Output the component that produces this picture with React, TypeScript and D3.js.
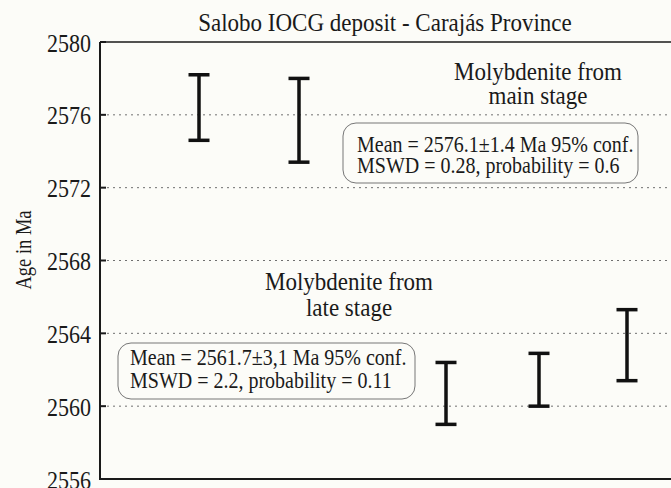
import React from "react";
import * as d3 from "d3";

const sampleX = [0.99, 1.99, 3.46, 4.39, 5.27];
const ageLow = [2574.6, 2573.4, 2559.0, 2560.0, 2561.4];
const ageHigh = [2578.2, 2578.0, 2562.4, 2562.9, 2565.3];
const yTicks = [2556, 2560, 2564, 2568, 2572, 2576, 2580];
const gridTicks = [2560, 2564, 2568, 2572, 2576];
const title = "Salobo IOCG deposit - Carajás Province";
const yLabel = "Age in Ma";
const mainLabel = ["Molybdenite from", "main stage"];
const lateLabel = ["Molybdenite from", "late stage"];
const mainStats = ["Mean = 2576.1±1.4 Ma 95% conf.", "MSWD = 0.28, probability = 0.6"];
const lateStats = ["Mean = 2561.7±3,1 Ma 95% conf.", "MSWD = 2.2, probability = 0.11"];

const W = 671;
const H = 488;
const L = 100;
const T = 42;
const B = 479;
const R = 671;
const FONT = "'Liberation Serif', 'Times New Roman', 'DejaVu Serif', serif";
const INK = "#1a1a1a";
const BG = "#fcfcf8";
const SY = 1.13;

function ST({ x, y, size, anchor = "start", lines, gap = 0 }: any) {
  return (
    <g transform={`translate(${x},${y}) scale(1,${SY})`}>
      <text x={0} y={0} fontSize={size} textAnchor={anchor} fill={INK}>
        {lines.map((s: string, i: number) => (
          <tspan key={i} x={0} y={(i * gap) / SY}>
            {s}
          </tspan>
        ))}
      </text>
    </g>
  );
}

export default function App() {
  const x = d3.scaleLinear().domain([0, 5.71]).range([L, R]);
  const y = d3.scaleLinear().domain([2556, 2580]).range([B, T]);
  const cap = 10.5;

  return (
    <svg
      width={W}
      height={H}
      style={{ position: "absolute", left: 0, top: 0, background: BG }}
      fontFamily={FONT}
    >
      <rect x={0} y={0} width={W} height={H} fill={BG} />
      {/* title */}
      <ST x={385} y={31} size={23} anchor="middle" lines={[title]} />
      {/* gridlines */}
      {gridTicks.map((t) => (
        <line
          key={"g" + t}
          x1={L + 7}
          x2={R}
          y1={y(t)}
          y2={y(t)}
          stroke="#707070"
          strokeWidth={1}
          strokeDasharray="2,4"
        />
      ))}
      {/* ticks */}
      {yTicks.map((t) => (
        <g key={"t" + t}>
          <line x1={L} x2={L + 6} y1={y(t)} y2={y(t)} stroke={INK} strokeWidth={2} />
          <ST x={91} y={y(t) + 9.5} size={22} anchor="end" lines={[String(t)]} />
        </g>
      ))}
      {/* axes */}
      <line x1={L} x2={R} y1={T} y2={T} stroke={INK} strokeWidth={1.5} />
      <line x1={L} x2={R} y1={B} y2={B} stroke={INK} strokeWidth={2} />
      <line x1={L} x2={L} y1={T} y2={B + 1} stroke={INK} strokeWidth={2} />
      {/* y label */}
      <g transform={`translate(31,250) rotate(-90) scale(1,1.3)`}>
        <text x={0} y={0} textAnchor="middle" fontSize={18.5} fill={INK}>
          {yLabel}
        </text>
      </g>
      {/* error bars */}
      {sampleX.map((sx, i) => {
        const cx = x(sx);
        return (
          <g key={"e" + i} stroke="#111" strokeWidth={3.5}>
            <line x1={cx} x2={cx} y1={y(ageHigh[i])} y2={y(ageLow[i])} />
            <line x1={cx - cap} x2={cx + cap} y1={y(ageHigh[i])} y2={y(ageHigh[i])} />
            <line x1={cx - cap} x2={cx + cap} y1={y(ageLow[i])} y2={y(ageLow[i])} />
          </g>
        );
      })}
      {/* main stage label */}
      <ST x={538} y={80} size={23} anchor="middle" lines={mainLabel} gap={24} />
      <rect x={343} y={123} width={295} height={60} rx={13} fill={BG} stroke="#777" strokeWidth={1} />
      <ST x={357} y={151.5} size={20} lines={mainStats} gap={22} />
      {/* late stage label */}
      <ST x={349} y={290} size={23} anchor="middle" lines={lateLabel} gap={26} />
      <rect x={118} y={343} width={297} height={56} rx={13} fill={BG} stroke="#777" strokeWidth={1} />
      <ST x={130} y={364.5} size={20} lines={lateStats} gap={23.5} />
    </svg>
  );
}
